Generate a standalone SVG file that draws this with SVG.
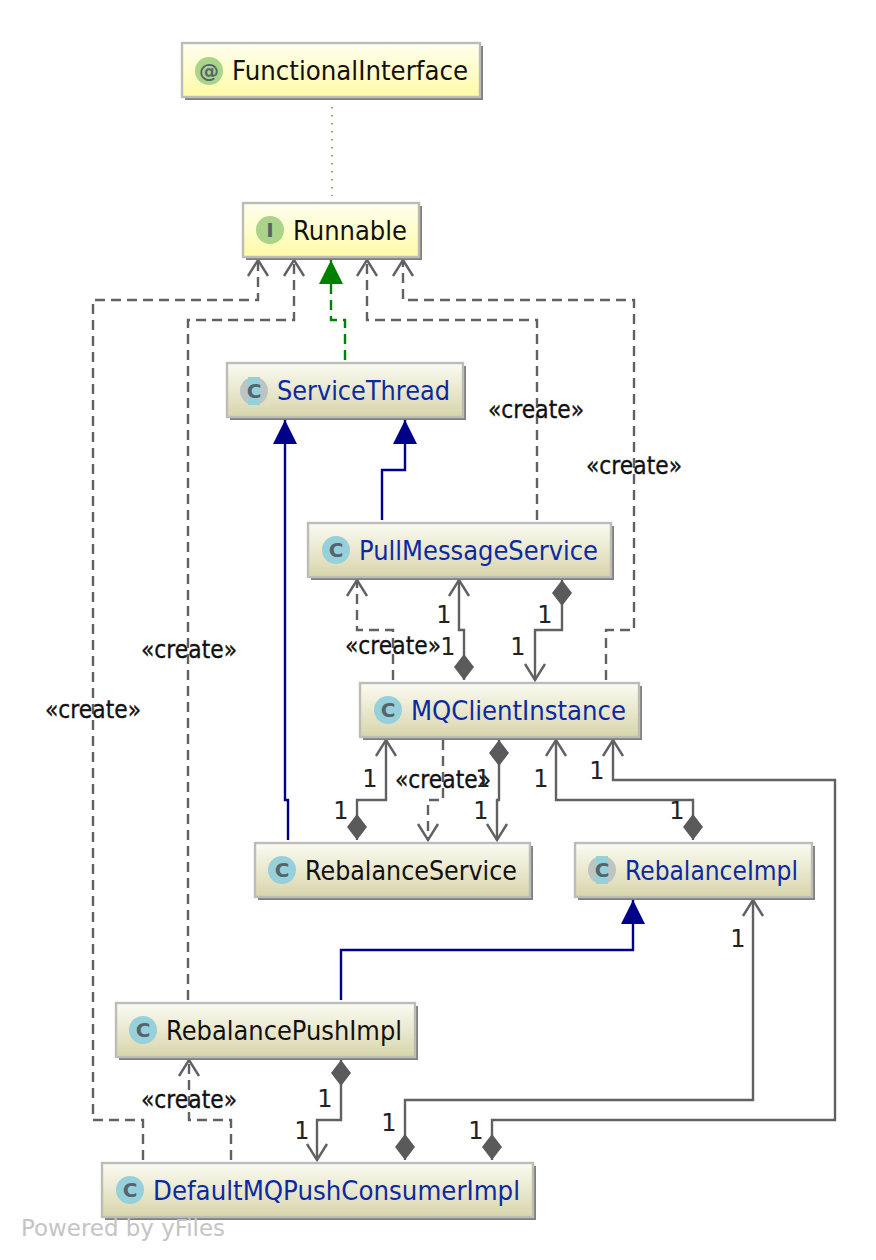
<svg xmlns="http://www.w3.org/2000/svg" width="876" height="1260" viewBox="0 0 876 1260">
<style>
text{font-family:"DejaVu Sans","Liberation Sans",sans-serif}
.box{stroke:#bdbdb8;stroke-width:2.4}
.cls{fill:url(#gc)}
.ifc{fill:url(#gi)}
.sh{fill:#808080}
.name{font-size:26.5px;fill:#111}
.blue{fill:#0b2aa0}
.ic{font-size:20px;font-weight:bold;fill:#56646a;text-anchor:middle}
.c{fill:none;stroke:#616161;stroke-width:2.4}
.dash{stroke-dasharray:10 6}
.ext{stroke:#000088}
.rel{stroke:#008000;stroke-dasharray:10 6}
.open{marker-end:url(#open)}
.dia{marker-start:url(#dia)}
.tri{marker-end:url(#tri)}
.lab{font-size:24px;fill:#111;stroke:#111;stroke-width:.35}
.one{font-size:24px;fill:#222;text-anchor:middle}
</style>
<defs>
<linearGradient id="gc" x1="0" y1="0" x2="0" y2="1"><stop offset="0" stop-color="#fbfbf2"/><stop offset="1" stop-color="#d8d5ab"/></linearGradient>
<linearGradient id="gi" x1="0" y1="0" x2="0" y2="1"><stop offset="0" stop-color="#ffffef"/><stop offset="1" stop-color="#fffaa6"/></linearGradient>
<marker id="open" markerUnits="userSpaceOnUse" markerWidth="20" markerHeight="24" refX="17" refY="11" orient="auto" overflow="visible"><path d="M1 1L17 11L1 21" fill="none" stroke="#616161" stroke-width="2.4"/></marker>
<marker id="dia" markerUnits="userSpaceOnUse" markerWidth="28" markerHeight="22" refX="0" refY="10" orient="auto" overflow="visible"><path d="M0 10L13 0L26 10L13 20Z" fill="#5a5a5a"/></marker>
<marker id="tri" markerUnits="userSpaceOnUse" markerWidth="26" markerHeight="26" refX="24" refY="12" orient="auto" overflow="visible"><path d="M0 0L24 12L0 24Z" fill="#000088"/></marker>
<marker id="trig" markerUnits="userSpaceOnUse" markerWidth="26" markerHeight="26" refX="24" refY="12" orient="auto" overflow="visible"><path d="M0 0L24 12L0 24Z" fill="#008000"/></marker>
</defs>
<rect width="876" height="1260" fill="#fff"/>
<g id="connectors">
<path d="M332 107V196" fill="none" stroke="#80803a" stroke-width="1.5" stroke-dasharray="1.5 6.5"/>
<path class="c dash open" d="M143 1160V1120H93V300H258V260"/>
<path class="c dash open" d="M188 1000V320H294V260"/>
<path class="c rel" style="marker-end:url(#trig)" d="M345 360V320H331V260"/>
<path class="c dash open" d="M537 520V320H367V260"/>
<path class="c dash open" d="M606 680V630H634V300H403V260"/>
<path class="c ext tri" d="M382 520V470H405V420"/>
<path class="c ext tri" d="M288 840V800H285V420"/>
<path class="c ext tri" d="M341 1000V950H633V900"/>
<path class="c dash open" d="M393 680V630H357V580"/>
<path class="c dia open" d="M464 680V630H459V580"/>
<path class="c dia open" d="M562 580V630H535V680"/>
<path class="c dia open" d="M357 840V800H386V740"/>
<path class="c dash open" d="M443 740V800H428V840"/>
<path class="c dia open" d="M499 740V800H497V840"/>
<path class="c dia open" d="M693 840V800H556V740"/>
<path class="c dia open" d="M492 1160V1120H835V780H613V740"/>
<path class="c dia open" d="M405 1160V1100H753V900"/>
<path class="c dia open" d="M341 1060V1120H317V1160"/>
<path class="c dash open" d="M231 1160V1120H189V1060"/>
</g>
<g id="labels">
<text class="lab" x="488" y="418" textLength="96" lengthAdjust="spacingAndGlyphs">«create»</text>
<text class="lab" x="586" y="474" textLength="96" lengthAdjust="spacingAndGlyphs">«create»</text>
<text class="lab" x="345" y="654" textLength="96" lengthAdjust="spacingAndGlyphs">«create»</text>
<text class="lab" x="141" y="658" textLength="96" lengthAdjust="spacingAndGlyphs">«create»</text>
<text class="lab" x="45" y="718" textLength="96" lengthAdjust="spacingAndGlyphs">«create»</text>
<text class="lab" x="395" y="788" textLength="96" lengthAdjust="spacingAndGlyphs">«create»</text>
<text class="lab" x="141" y="1108" textLength="96" lengthAdjust="spacingAndGlyphs">«create»</text>
<text class="one" x="444" y="623">1</text>
<text class="one" x="448" y="655">1</text>
<text class="one" x="545" y="623">1</text>
<text class="one" x="518" y="655">1</text>
<text class="one" x="370" y="787">1</text>
<text class="one" x="341" y="819">1</text>
<text class="one" x="483" y="787">1</text>
<text class="one" x="481" y="819">1</text>
<text class="one" x="541" y="787">1</text>
<text class="one" x="597" y="779">1</text>
<text class="one" x="677" y="819">1</text>
<text class="one" x="738" y="947">1</text>
<text class="one" x="325" y="1107">1</text>
<text class="one" x="302" y="1139">1</text>
<text class="one" x="389" y="1131">1</text>
<text class="one" x="476" y="1139">1</text>
</g>
<g id="FunctionalInterface">
<rect class="sh" x="185" y="46" width="298" height="54"/>
<rect class="box ifc" x="182" y="43" width="298" height="54"/>
<circle cx="209" cy="71" r="14" fill="#a9d48a"/>
<text class="ic" x="209" y="78">@</text>
<text class="name" x="232" y="80" textLength="236" lengthAdjust="spacingAndGlyphs">FunctionalInterface</text>
</g>
<g id="Runnable">
<rect class="sh" x="246" y="206" width="176" height="54"/>
<rect class="box ifc" x="243" y="203" width="176" height="54"/>
<circle cx="270" cy="230" r="14" fill="#a9d48a"/>
<text class="ic" x="270" y="237">I</text>
<text class="name" x="293" y="240" textLength="114" lengthAdjust="spacingAndGlyphs">Runnable</text>
</g>
<g id="ServiceThread">
<rect class="sh" x="230" y="366" width="236" height="54"/>
<rect class="box cls" x="227" y="363" width="236" height="54"/>
<circle cx="254" cy="391" r="14" fill="#bcc4c4"/>
<rect x="248" y="377" width="12" height="28" fill="#96d0da"/>
<text class="ic" x="254" y="398">C</text>
<text class="name blue" x="277" y="400" textLength="173" lengthAdjust="spacingAndGlyphs">ServiceThread</text>
</g>
<g id="PullMessageService">
<rect class="sh" x="311" y="526" width="303" height="54"/>
<rect class="box cls" x="308" y="523" width="303" height="54"/>
<circle cx="336" cy="550" r="14" fill="#96d0da"/>
<text class="ic" x="336" y="557">C</text>
<text class="name blue" x="359" y="560" textLength="239" lengthAdjust="spacingAndGlyphs">PullMessageService</text>
</g>
<g id="MQClientInstance">
<rect class="sh" x="363" y="686" width="279" height="54"/>
<rect class="box cls" x="360" y="683" width="279" height="54"/>
<circle cx="388" cy="710" r="14" fill="#96d0da"/>
<text class="ic" x="388" y="717">C</text>
<text class="name blue" x="411" y="720" textLength="215" lengthAdjust="spacingAndGlyphs">MQClientInstance</text>
</g>
<g id="RebalanceService">
<rect class="sh" x="258" y="846" width="275" height="54"/>
<rect class="box cls" x="255" y="843" width="275" height="54"/>
<circle cx="282" cy="870" r="14" fill="#96d0da"/>
<text class="ic" x="282" y="877">C</text>
<text class="name" x="305" y="880" textLength="212" lengthAdjust="spacingAndGlyphs">RebalanceService</text>
</g>
<g id="RebalanceImpl">
<rect class="sh" x="578" y="846" width="237" height="54"/>
<rect class="box cls" x="575" y="843" width="237" height="54"/>
<circle cx="602" cy="870" r="14" fill="#bcc4c4"/>
<rect x="596" y="856" width="12" height="28" fill="#96d0da"/>
<text class="ic" x="602" y="877">C</text>
<text class="name blue" x="625" y="880" textLength="173" lengthAdjust="spacingAndGlyphs">RebalanceImpl</text>
</g>
<g id="RebalancePushImpl">
<rect class="sh" x="119" y="1006" width="299" height="54"/>
<rect class="box cls" x="116" y="1003" width="299" height="54"/>
<circle cx="143" cy="1030" r="14" fill="#96d0da"/>
<text class="ic" x="143" y="1037">C</text>
<text class="name" x="166" y="1040" textLength="236" lengthAdjust="spacingAndGlyphs">RebalancePushImpl</text>
</g>
<g id="DefaultMQPushConsumerImpl">
<rect class="sh" x="105" y="1166" width="431" height="54"/>
<rect class="box cls" x="102" y="1163" width="431" height="54"/>
<circle cx="130" cy="1190" r="14" fill="#96d0da"/>
<text class="ic" x="130" y="1197">C</text>
<text class="name blue" x="153" y="1200" textLength="367" lengthAdjust="spacingAndGlyphs">DefaultMQPushConsumerImpl</text>
</g>
<text x="21" y="1236" font-size="23" fill="#c4c4c4" textLength="204" lengthAdjust="spacingAndGlyphs">Powered by yFiles</text>
</svg>
